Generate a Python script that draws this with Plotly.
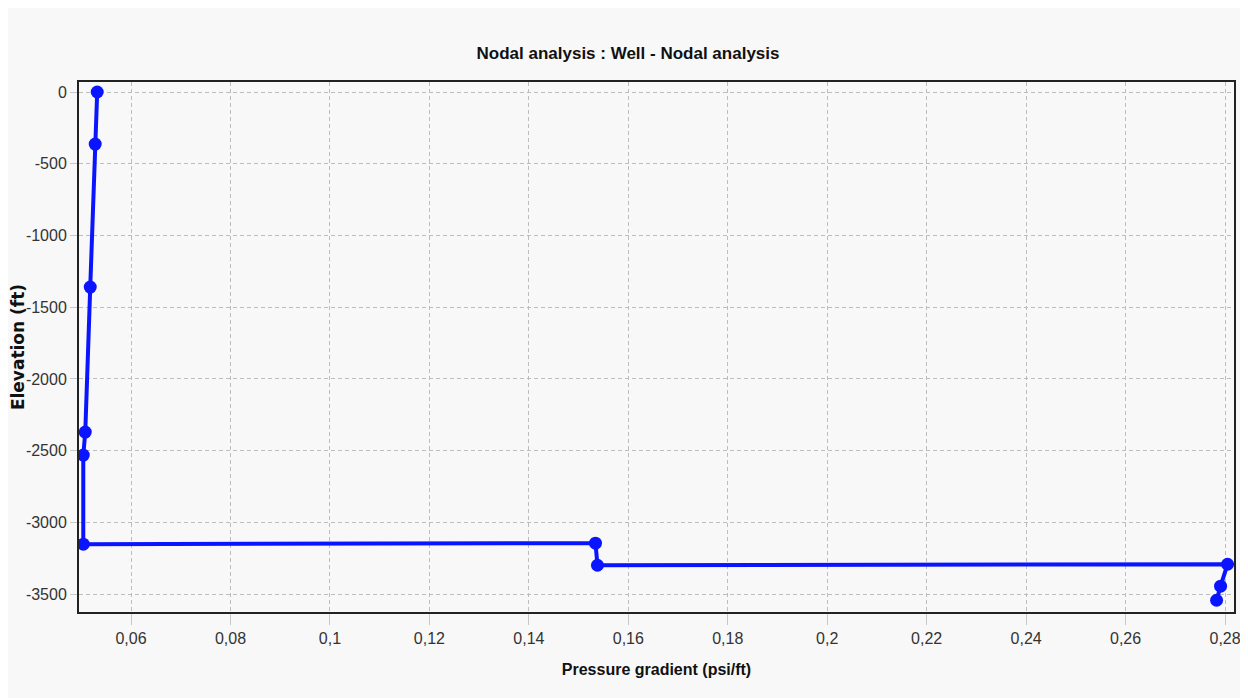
import plotly.graph_objects as go

# Data
gradient = [0.0532, 0.0528, 0.0518, 0.0508, 0.0504, 0.0504, 0.1534, 0.1538, 0.2805, 0.2791, 0.2783]
elevation = [0, -363, -1360, -2371, -2531, -3152, -3145, -3299, -3292, -3445, -3543]

x_tickvals = [0.06, 0.08, 0.10, 0.12, 0.14, 0.16, 0.18, 0.20, 0.22, 0.24, 0.26, 0.28]
x_ticktext = ["0,06", "0,08", "0,1", "0,12", "0,14", "0,16", "0,18", "0,2", "0,22", "0,24", "0,26", "0,28"]
y_tickvals = [0, -500, -1000, -1500, -2000, -2500, -3000, -3500]
y_ticktext = ["0", "-500", "-1000", "-1500", "-2000", "-2500", "-3000", "-3500"]

FONT = "Liberation Sans, Arial, sans-serif"
tick_font = dict(family=FONT, size=16, color="#333333")

fig = go.Figure()
fig.add_trace(go.Scatter(
    x=gradient, y=elevation, mode="lines+markers",
    line=dict(color="#0a14ff", width=4),
    marker=dict(color="#0a14ff", size=13),
    showlegend=False,
))

W, H = 1240, 690
fig.update_layout(
    width=W, height=H,
    paper_bgcolor="#f8f8f8", plot_bgcolor="#f8f8f8",
    margin=dict(l=71, r=14, t=74, b=86),
    title=dict(text="<b>Nodal analysis : Well - Nodal analysis</b>", x=0.5, xanchor="center",
               y=1 - 45 / H, yanchor="middle",
               font=dict(family=FONT, size=17, color="#111")),
)
fig.update_xaxes(
    range=[0.04954, 0.2818], tickvals=x_tickvals, ticktext=x_ticktext,
    showgrid=True, gridcolor="#bdbdbd", griddash="4px,3px", gridwidth=1,
    showline=True, linecolor="#222", linewidth=2, mirror=True,
    ticks="outside", ticklen=11, tickcolor="#c8c8c8", tickwidth=1,
    tickfont=tick_font, zeroline=False, automargin=False,
    title=dict(text="<b>Pressure gradient (psi/ft)</b>", standoff=18,
               font=dict(family=FONT, size=16, color="#111")),
)
fig.update_yaxes(
    range=[-3625, 69.7], tickvals=y_tickvals, ticktext=y_ticktext,
    showgrid=True, gridcolor="#bdbdbd", griddash="4px,3px", gridwidth=1,
    showline=True, linecolor="#222", linewidth=2, mirror=True,
    ticks="outside", ticklen=7, tickcolor="#c8c8c8", tickwidth=1,
    tickfont=tick_font, zeroline=False, automargin=False,
    title=dict(text="<b>Elevation (ft)</b>", standoff=2,
               font=dict(family="Verdana, DejaVu Sans, sans-serif", size=17, color="#111")),
)

fig.write_html("out.html")
